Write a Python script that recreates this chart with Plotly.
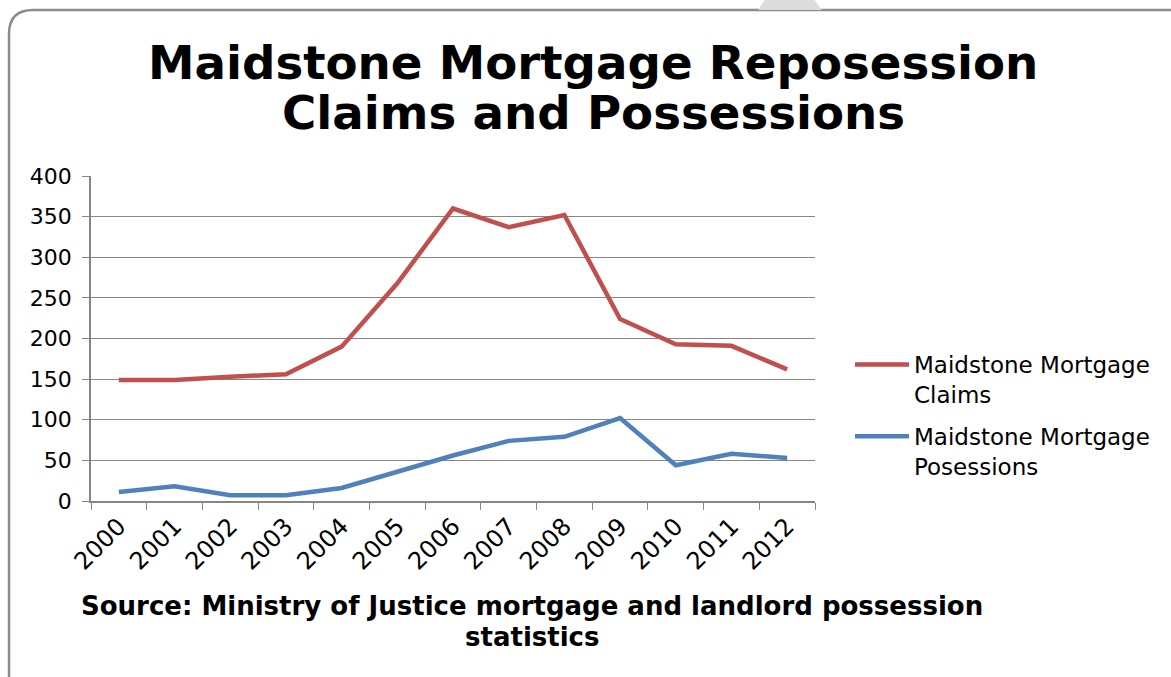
import plotly.graph_objects as go

years = ["2000", "2001", "2002", "2003", "2004", "2005", "2006",
         "2007", "2008", "2009", "2010", "2011", "2012"]
claims = [149, 149, 153, 156, 190, 268, 360, 337, 352, 224, 193, 191, 162]
possessions = [11, 18, 7, 7, 16, 36, 56, 74, 79, 102, 44, 58, 53]

series_names = ["Maidstone Mortgage<br>Claims", "Maidstone Mortgage<br>Posessions"]
series_colors = ["#C0504D", "#4F81BD"]

title_lines = ["Maidstone Mortgage Reposession", "Claims and Possessions"]
source_lines = ["Source: Ministry of Justice mortgage and landlord possession",
                "statistics"]

W, H = 1171, 677
FONT = "DejaVu Sans"

# plot area in pixels
L, R, T, B = 91, 815, 176, 501


def px(x):
    return (x - L) / (R - L)


def py(y):
    return (B - y) / (B - T)


fig = go.Figure()
for i, (vals, name, col) in enumerate(zip([claims, possessions], series_names, series_colors)):
    fig.add_trace(go.Scatter(
        x=years, y=vals, mode="lines", name=name, legendgroup=f"g{i}",
        line=dict(color=col, width=4.5),
    ))

annotations = []
for text, ymid in zip(title_lines, [63, 113]):
    annotations.append(dict(
        text=text, xref="paper", yref="paper", x=px(593), y=py(ymid),
        xanchor="center", yanchor="middle", showarrow=False,
        font=dict(family=FONT, size=46.7, color="black", weight="bold"),
    ))
for text, ymid in zip(source_lines, [606, 637]):
    annotations.append(dict(
        text=text, xref="paper", yref="paper", x=px(532), y=py(ymid),
        xanchor="center", yanchor="middle", showarrow=False,
        font=dict(family=FONT, size=26, color="black", weight="bold"),
    ))

fig.update_layout(
    width=W, height=H,
    paper_bgcolor="white", plot_bgcolor="white",
    margin=dict(l=L, r=W - R, t=T, b=H - B, autoexpand=False),
    font=dict(family=FONT, color="black"),
    showlegend=True,
    xaxis=dict(
        type="category", showgrid=False, showline=True, linecolor="#868686",
        linewidth=1.5, ticks="outside", tickson="boundaries", ticklen=7,
        tickcolor="#868686", tickangle=-45, tickfont=dict(size=24),
        range=[-0.5, len(years) - 0.5],
    ),
    yaxis=dict(
        range=[0, 400], dtick=50, showgrid=True, gridcolor="#868686",
        gridwidth=1.2, showline=True, linecolor="#868686", linewidth=1.5,
        ticks="outside", ticklen=7, tickcolor="#868686",
        tickfont=dict(size=22), zeroline=False, ticklabelstandoff=6,
    ),
    legend=dict(
        x=px(850), y=py(343), xanchor="left", yanchor="top", valign="top",
        font=dict(size=23), itemwidth=54, tracegroupgap=9,
        traceorder="grouped", bgcolor="rgba(0,0,0,0)",
    ),
    annotations=annotations,
)

# rounded outer frame of the chart
frame = (f"M {px(9)} {py(700)} L {px(9)} {py(34)} "
         f"Q {px(9)} {py(10)} {px(33)} {py(10)} L {px(1200)} {py(10)}")
fig.add_shape(type="path", xref="paper", yref="paper", layer="below",
              path=frame, line=dict(color="#8C8C8C", width=2.5))

# small grey tab peeking above the frame
tab = (f"M {px(758)} {py(10)} L {px(766)} {py(-2)} L {px(813)} {py(-2)} "
       f"L {px(822)} {py(10)} Z")
fig.add_shape(type="path", xref="paper", yref="paper", layer="below",
              path=tab, fillcolor="#DCDCDC", line=dict(width=0))

fig.write_html("out.html")
